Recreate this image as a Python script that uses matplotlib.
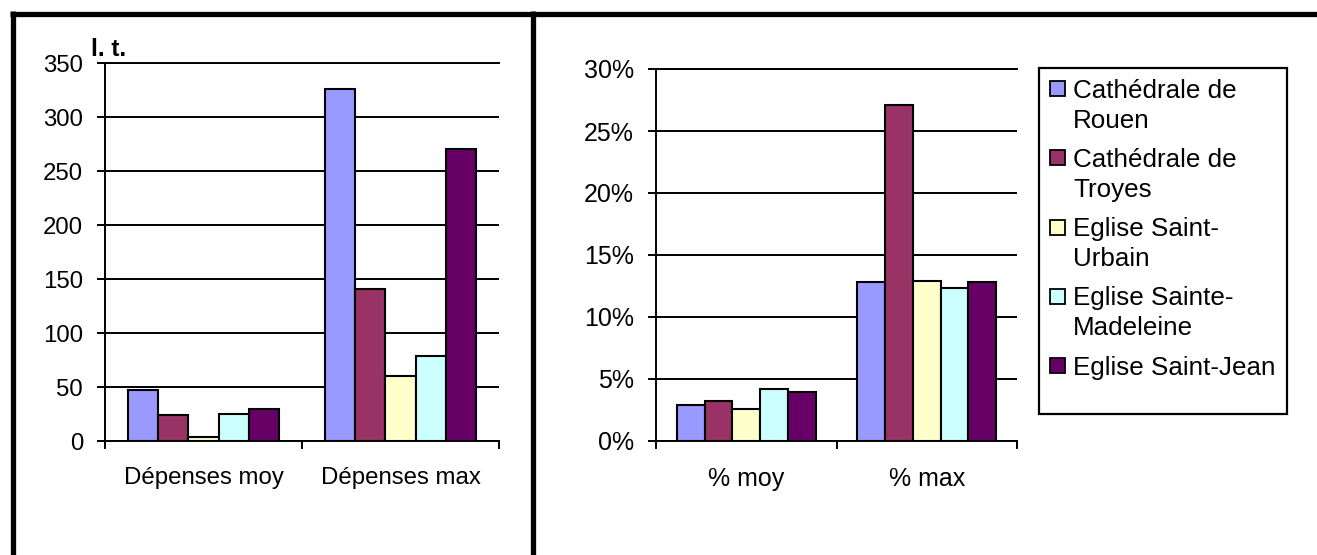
"""Two Excel-style grouped bar charts: dépenses (l. t.) and percentages, per church."""

import matplotlib

matplotlib.use("Agg")
import matplotlib.pyplot as plt
import numpy as np
from matplotlib.lines import Line2D
from matplotlib.patches import Rectangle
from matplotlib.ticker import FixedLocator, PercentFormatter

plt.rcParams["font.family"] = ["Liberation Sans", "DejaVu Sans"]

# --- data -------------------------------------------------------------------
series = [
    "Cathédrale de Rouen",
    "Cathédrale de Troyes",
    "Eglise Saint-Urbain",
    "Eglise Sainte-Madeleine",
    "Eglise Saint-Jean",
]
legend_labels = [
    "Cathédrale de\nRouen",
    "Cathédrale de\nTroyes",
    "Eglise Saint-\nUrbain",
    "Eglise Sainte-\nMadeleine",
    "Eglise Saint-Jean",
]
colors = ["#9999FF", "#993366", "#FFFFCC", "#CCFFFF", "#660066"]

depense_categories = ["Dépenses moy", "Dépenses max"]
depense_moy = [47, 24.5, 3.5, 25, 30]
depense_max = [325.5, 140.5, 60.5, 78.5, 270]

pct_categories = ["% moy", "% max"]
pct_moy = [0.029, 0.0326, 0.0257, 0.0417, 0.0394]
pct_max = [0.128, 0.271, 0.129, 0.123, 0.128]

W, H = 1317, 555


def fx(x):
    return x / W


def fy(y):
    return 1 - y / H


def draw_bars(ax, categories, values_by_cat, ymax, ystep, fs):
    n = len(series)
    bw = 1 / (n + 1.5)
    x = np.arange(len(categories))
    for i, name in enumerate(series):
        vals = [v[i] for v in values_by_cat]
        ax.bar(x + (i - (n - 1) / 2) * bw, vals, bw, color=colors[i],
               edgecolor="black", linewidth=1.5, zorder=3, label=name)
    ax.set_xlim(-0.5, len(categories) - 0.5)
    ax.set_ylim(0, ymax)
    ax.set_yticks(np.arange(0, ymax + ystep / 2, ystep))
    ax.yaxis.grid(True, color="black", linewidth=1.4)
    ax.set_axisbelow(True)
    ax.spines["right"].set_visible(False)
    for s in ["left", "bottom", "top"]:
        ax.spines[s].set_linewidth(1.4)
    # boundaries get tick marks, category centres get the labels
    ax.xaxis.set_major_locator(FixedLocator(np.arange(len(categories) + 1) - 0.5))
    ax.xaxis.set_minor_locator(FixedLocator(x))
    ax.set_xticklabels([])
    ax.set_xticklabels(categories, minor=True)
    ax.tick_params(axis="x", which="major", length=5.5, width=1.4, direction="out")
    ax.tick_params(axis="x", which="minor", length=0, pad=19, labelsize=fs)
    ax.tick_params(axis="y", length=5.8, width=1.4, pad=10, labelsize=fs)


fig = plt.figure(figsize=(W / 100, H / 100), dpi=100)

ax1 = fig.add_axes([fx(105), fy(441), fx(499) - fx(105), fy(63) - fy(441)])
draw_bars(ax1, depense_categories, [depense_moy, depense_max], 350, 50, 17.3)
fig.text(fx(91), fy(56), "l. t.", fontsize=17.5, fontweight="bold", ha="left", va="baseline")

ax2 = fig.add_axes([fx(656), fy(441), fx(1017) - fx(656), fy(69) - fy(441)])
draw_bars(ax2, pct_categories, [pct_moy, pct_max], 0.30, 0.05, 18)
ax2.yaxis.set_major_formatter(PercentFormatter(xmax=1, decimals=0))

# legend box, drawn the Excel way (marker on the first text line)
fig.add_artist(Rectangle((fx(1039), fy(414)), fx(1287) - fx(1039), fy(68) - fy(414),
                         transform=fig.transFigure, facecolor="white",
                         edgecolor="black", linewidth=1.6))
y0 = 88.5
for i, label in enumerate(legend_labels):
    fig.add_artist(Rectangle((fx(1050), fy(y0 + 7.5)), fx(15), 15 / H,
                             transform=fig.transFigure, facecolor=colors[i],
                             edgecolor="black", linewidth=1.3))
    for k, line in enumerate(label.split("\n")):
        fig.text(fx(1073), fy(y0 + 9 + 30 * k), line, fontsize=18.7,
                 ha="left", va="baseline")
    y0 += 69.3

# thick frame lines around the two panels
for xs, ys in [((10, W), (13.5, 13.5)), ((12.5, 12.5), (11, H)), ((532.5, 532.5), (11, H))]:
    fig.add_artist(Line2D([fx(v) for v in xs], [fy(v) for v in ys],
                          transform=fig.transFigure, color="black", linewidth=3.8,
                          solid_capstyle="butt"))

fig.savefig("out.png", dpi=100)
